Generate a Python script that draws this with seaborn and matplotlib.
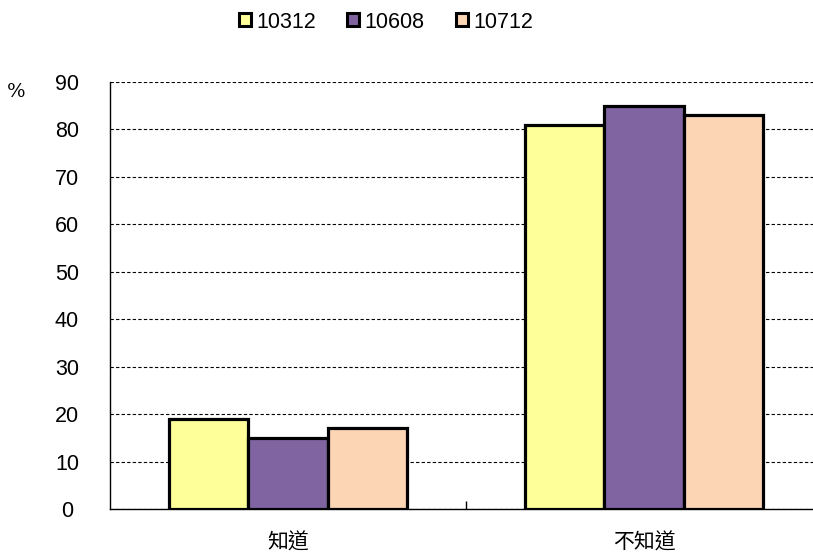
import matplotlib
matplotlib.use("Agg")
import matplotlib.pyplot as plt
import seaborn as sns
import pandas as pd
from matplotlib.patches import Patch

categories = ["知道", "不知道"]
series_names = ["10312", "10608", "10712"]
v_10312 = [19, 81]
v_10608 = [15, 85]
v_10712 = [17, 83]
colors = ["#FFFF99", "#8064A2", "#FCD5B5"]

rows = []
for name, vals in zip(series_names, [v_10312, v_10608, v_10712]):
    for c, v in zip(categories, vals):
        rows.append({"cat": c, "series": name, "val": v})
df = pd.DataFrame(rows)

sns.set_theme(style="white")
plt.rcParams['font.family'] = ['Liberation Sans', 'Noto Sans CJK TC', 'DejaVu Sans']
plt.rcParams['text.color'] = 'black'

fig = plt.figure(figsize=(8.13, 5.54), dpi=100)
ax = fig.add_axes([110/813, 1-509/554, 1-110/813 + 0.012, (509-82)/554])

sns.barplot(data=df, x="cat", y="val", hue="series", order=categories,
            hue_order=series_names, palette=colors, width=0.667, gap=0,
            edgecolor="black", linewidth=2.3, saturation=1, ax=ax, legend=False)

ax.set_ylim(0, 90)
ax.set_xlim(-0.5, 1.502)
ax.set_yticks(range(0, 91, 10))
ax.yaxis.grid(True, linestyle=(0, (3, 2)), color="black", linewidth=0.8)
ax.set_axisbelow(True)
ax.set_xlabel("")
ax.set_ylabel("")
for s in ["top", "right"]:
    ax.spines[s].set_visible(False)
for s in ["left", "bottom"]:
    ax.spines[s].set_color("black")
    ax.spines[s].set_linewidth(1.0)
ax.tick_params(axis="y", labelsize=15.5, colors="black", left=False, pad=25)
for t in ax.get_yticklabels():
    t.set_horizontalalignment("center")
ax.tick_params(axis="x", bottom=False, pad=10, labelcolor="black")
for t in ax.get_xticklabels():
    t.set_fontfamily(['Noto Sans CJK TC'])
    t.set_fontsize(15)
ax.set_xticks([0.5], minor=True)
ax.tick_params(axis="x", which="minor", bottom=True, direction="in", length=6, width=1, color="black")

fig.text(16/813, 1-92/554, "%", fontsize=14, family=['DejaVu Serif'], ha="center", va="center", color="black")

handles = [Patch(facecolor=c, edgecolor="black", linewidth=2.2) for c in colors]
fig.legend(handles, series_names, loc="center", bbox_to_anchor=(386/813, 1-22/554),
           ncol=3, frameon=False, fontsize=15.5, handlelength=0.55, handleheight=0.55,
           handletextpad=0.25, columnspacing=1.45, labelcolor="black")

fig.savefig("out.png", dpi=100)
